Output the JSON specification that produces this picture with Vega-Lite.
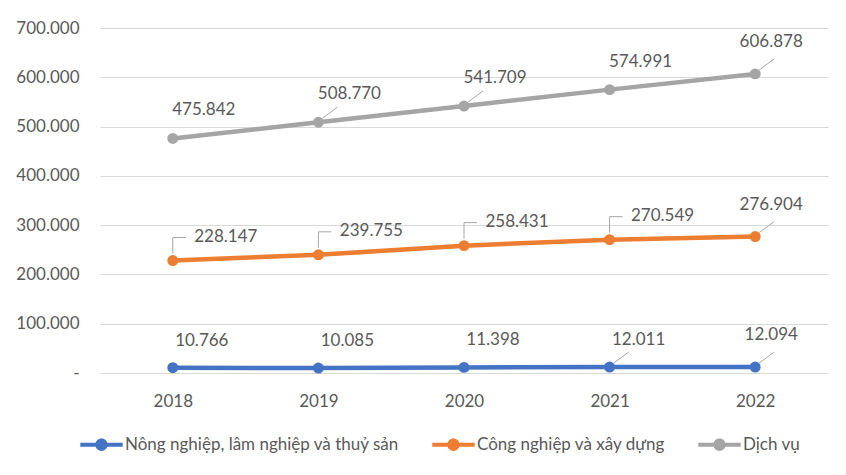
{
  "$schema": "https://vega.github.io/schema/vega-lite/v6.json",
  "width": 728,
  "height": 345,
  "autosize": {"type": "none"},
  "padding": {"left": 100, "top": 28, "right": 18, "bottom": 102},
  "background": "white",
  "config": {"view": {"stroke": null}, "font": "Lato"},
  "data": {
    "values": [
      {"year": "2018", "series": "Nông nghiệp, lâm nghiệp và thuỷ sản", "value": 10.766},
      {"year": "2019", "series": "Nông nghiệp, lâm nghiệp và thuỷ sản", "value": 10.085},
      {"year": "2020", "series": "Nông nghiệp, lâm nghiệp và thuỷ sản", "value": 11.398},
      {"year": "2021", "series": "Nông nghiệp, lâm nghiệp và thuỷ sản", "value": 12.011},
      {"year": "2022", "series": "Nông nghiệp, lâm nghiệp và thuỷ sản", "value": 12.094},
      {"year": "2018", "series": "Công nghiệp và xây dựng", "value": 228.147},
      {"year": "2019", "series": "Công nghiệp và xây dựng", "value": 239.755},
      {"year": "2020", "series": "Công nghiệp và xây dựng", "value": 258.431},
      {"year": "2021", "series": "Công nghiệp và xây dựng", "value": 270.549},
      {"year": "2022", "series": "Công nghiệp và xây dựng", "value": 276.904},
      {"year": "2018", "series": "Dịch vụ", "value": 475.842},
      {"year": "2019", "series": "Dịch vụ", "value": 508.770},
      {"year": "2020", "series": "Dịch vụ", "value": 541.709},
      {"year": "2021", "series": "Dịch vụ", "value": 574.991},
      {"year": "2022", "series": "Dịch vụ", "value": 606.878}
    ]
  },
  "encoding": {
    "x": {
      "field": "year",
      "type": "ordinal",
      "scale": {"type": "point", "padding": 0.5},
      "axis": {"title": null, "labelAngle": 0, "domain": false, "ticks": false, "grid": false, "labelFontSize": 17, "labelColor": "#595959", "labelPadding": 20}
    },
    "y": {
      "field": "value",
      "type": "quantitative",
      "scale": {"domain": [0, 700]},
      "axis": {
        "title": null, "domain": false, "ticks": false, "gridColor": "#D9D9D9", "gridWidth": 1,
        "labelFontSize": 17, "labelColor": "#595959", "labelPadding": 21,
        "values": [0, 100, 200, 300, 400, 500, 600, 700],
        "labelExpr": "datum.value == 0 ? '-\u00a0\u00a0' : format(datum.value, '.3f')"
      }
    },
    "color": {
      "field": "series",
      "type": "nominal",
      "scale": {
        "domain": ["Nông nghiệp, lâm nghiệp và thuỷ sản", "Công nghiệp và xây dựng", "Dịch vụ"],
        "range": ["#4472C4", "#ED7D31", "#A5A5A5"]
      },
      "legend": {
        "orient": "none", "legendX": -20, "legendY": 395, "direction": "horizontal", "title": null,
        "symbolType": "M-1,-0.1H1V0.1H-1Z M-0.29,0 A0.29,0.29 0 1,1 0.29,0 A0.29,0.29 0 1,1 -0.29,0 Z",
        "symbolSize": 1800, "symbolStrokeWidth": 0, "labelFontSize": 17, "labelColor": "#595959",
        "labelLimit": 400, "columnPadding": 32, "labelOffset": 2,
        "encode": {"symbols": {"update": {"fill": {"scale": "color", "field": "value"}, "stroke": {"value": "transparent"}, "opacity": {"value": 1}}}}
      }
    }
  },
  "layer": [
    {"mark": {"type": "line", "strokeWidth": 4.5}},
    {"mark": {"type": "point", "filled": true, "size": 120, "opacity": 1}},
    {
      "transform": [{"filter": "datum.series == 'Công nghiệp và xây dựng' && datum.year != '2022'"}],
      "mark": {"type": "rule", "color": "#A6A6A6", "strokeWidth": 1, "yOffset": -7, "y2Offset": -23},
      "encoding": {"y2": {"field": "value"}, "color": {"value": "#A6A6A6"}}
    },
    {
      "transform": [{"filter": "datum.series == 'Công nghiệp và xây dựng' && datum.year != '2022'"}],
      "mark": {"type": "rule", "strokeWidth": 1, "xOffset": 0, "x2Offset": 13, "yOffset": -23},
      "encoding": {"x2": {"field": "year"}, "color": {"value": "#A6A6A6"}}
    },
    {
      "transform": [{"filter": "datum.year == '2022' || (datum.series == 'Dịch vụ' && (datum.year == '2019' || datum.year == '2020')) || (datum.series == 'Nông nghiệp, lâm nghiệp và thuỷ sản' && datum.year == '2021')"}],
      "mark": {"type": "rule", "strokeWidth": 1, "xOffset": 4, "x2Offset": 19, "yOffset": -4, "y2Offset": -15},
      "encoding": {"x2": {"field": "year"}, "y2": {"field": "value"}, "color": {"value": "#A6A6A6"}}
    },
    {
      "transform": [{"filter": "datum.series == 'Dịch vụ' && datum.year != '2022'"}],
      "mark": {"type": "text", "dx": 31, "dy": -28, "fontSize": 17},
      "encoding": {"text": {"field": "value", "type": "quantitative", "format": ".3f"}, "color": {"value": "#595959"}}
    },
    {
      "transform": [{"filter": "datum.series == 'Công nghiệp và xây dựng' && datum.year != '2022'"}],
      "mark": {"type": "text", "dx": 53, "dy": -24, "fontSize": 17},
      "encoding": {"text": {"field": "value", "type": "quantitative", "format": ".3f"}, "color": {"value": "#595959"}}
    },
    {
      "transform": [{"filter": "datum.series == 'Nông nghiệp, lâm nghiệp và thuỷ sản' && datum.year != '2022'"}],
      "mark": {"type": "text", "dx": 29, "dy": -27, "fontSize": 17},
      "encoding": {"text": {"field": "value", "type": "quantitative", "format": ".3f"}, "color": {"value": "#595959"}}
    },
    {
      "transform": [{"filter": "datum.year == '2022'"}],
      "mark": {"type": "text", "dx": 16, "dy": -32, "fontSize": 17},
      "encoding": {"text": {"field": "value", "type": "quantitative", "format": ".3f"}, "color": {"value": "#595959"}}
    }
  ]
}
